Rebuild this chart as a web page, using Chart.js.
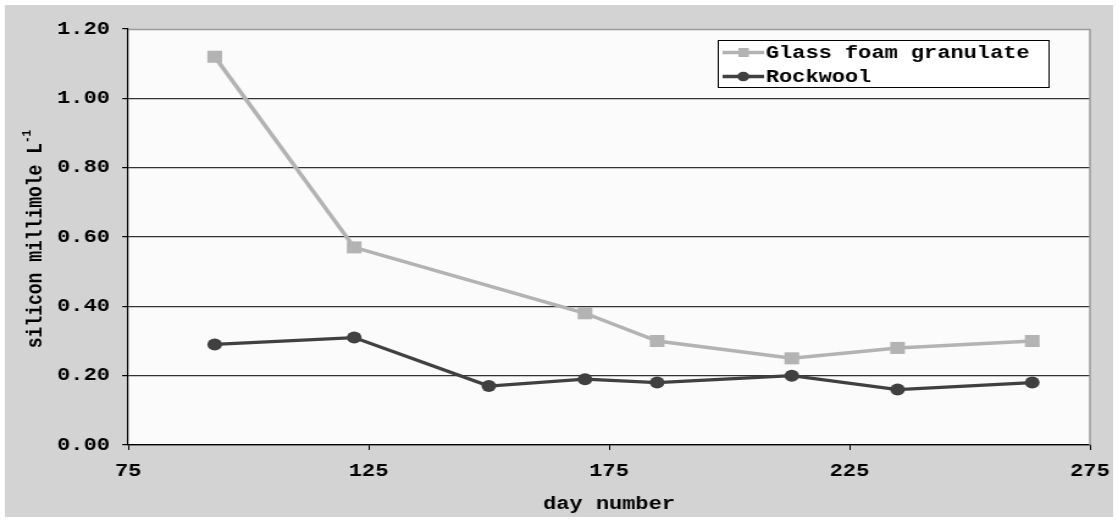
<!DOCTYPE html>
<html><head><meta charset="utf-8">
<script src="https://cdn.jsdelivr.net/npm/chart.js@4.4.1/dist/chart.umd.min.js"></script>
<style>html,body{margin:0;padding:0;background:#fff;overflow:hidden}canvas{display:block}</style>
</head><body>
<canvas id="c" width="916" height="522" style="width:1118px;height:522px;display:block"></canvas>
<script>
// ---- data ----
const days = [93, 122, 150, 170, 185, 213, 235, 263];
const glassFoam = [1.12, 0.57, null, 0.38, 0.30, 0.25, 0.28, 0.30];
const rockwool = [0.29, 0.31, 0.17, 0.19, 0.18, 0.20, 0.16, 0.18];
const xTickValues = [75, 125, 175, 225, 275];
const yTickValues = [0, 0.2, 0.4, 0.6, 0.8, 1.0, 1.2];
const seriesNames = ['Glass foam granulate', 'Rockwool'];
const xTitle = 'day number';
const yTitle = 'silicon millimole L';
const yTitleSup = '-1';

const FONT = '"Liberation Mono","Courier New",monospace';
const GLASS = '#b3b3b3', ROCK = '#404040';

function pts(xs, ys) {
  const out = [];
  xs.forEach((x, i) => { if (ys[i] !== null) out.push({x: x, y: ys[i]}); });
  return out;
}

const bgPlugin = {
  id: 'bg',
  beforeDraw(chart) {
    const c = chart.ctx, a = chart.chartArea;
    c.save();
    c.fillStyle = '#ffffff'; c.fillRect(0, 0, chart.width, chart.height);
    c.fillStyle = '#d3d3d3'; c.fillRect(4, 5, 908, 512);
    c.fillStyle = '#fbfbfb'; c.fillRect(a.left, a.top, a.right - a.left, a.bottom - a.top);
    c.restore();
  },
  beforeDatasetsDraw(chart) {
    const c = chart.ctx, a = chart.chartArea;
    c.save();
    c.strokeStyle = '#9a9a9a'; c.lineWidth = 1.5;
    c.beginPath();
    c.moveTo(a.left, a.top + 0.5); c.lineTo(a.right, a.top + 0.5);
    c.moveTo(a.right, a.top); c.lineTo(a.right, a.bottom);
    c.stroke();
    c.restore();
  },
  afterDraw(chart) {
    const c = chart.ctx, a = chart.chartArea;
    c.save();
    // x title
    c.fillStyle = '#000';
    c.font = 'bold 18px ' + FONT;
    c.textAlign = 'center'; c.textBaseline = 'middle';
    c.fillText(xTitle, (a.left + a.right) / 2, 504);
    // y title rotated with superscript
    c.translate(34, (a.top + a.bottom) / 2 + 2);
    c.rotate(-Math.PI / 2);
    c.font = 'bold 18px ' + FONT;
    const w1 = c.measureText(yTitle).width;
    c.font = 'bold 11px ' + FONT;
    const w2 = c.measureText(yTitleSup).width;
    const start = -(w1 + w2) / 2;
    c.textAlign = 'left'; c.textBaseline = 'alphabetic';
    c.font = 'bold 18px ' + FONT;
    c.fillText(yTitle, start, 0);
    c.font = 'bold 11px ' + FONT;
    c.fillText(yTitleSup, start + w1, -9);
    c.restore();

    // legend
    c.save();
    const lx = 588.5, ly = 40.5, lw = 271, lh = 47;
    c.fillStyle = '#ffffff'; c.fillRect(lx, ly, lw, lh);
    c.strokeStyle = '#000'; c.lineWidth = 1; c.strokeRect(lx, ly, lw, lh);
    const rows = [52.5, 76.5];
    chart.data.datasets.forEach((ds, i) => {
      const y = rows[i];
      c.strokeStyle = ds.borderColor; c.lineWidth = 3.5;
      c.beginPath(); c.moveTo(592, y); c.lineTo(626, y); c.stroke();
      c.fillStyle = ds.borderColor;
      if (ds.pointStyle === 'rect') {
        c.fillRect(605, y - 4.5, 8.5, 9);
      } else {
        c.beginPath(); c.arc(609, y, 4.8, 0, Math.PI * 2); c.fill();
      }
      c.fillStyle = '#000';
      c.font = 'bold 18px ' + FONT;
      c.textAlign = 'left'; c.textBaseline = 'middle';
      c.fillText(ds.label, 627.5, y + 1);
    });
    c.restore();
  }
};

new Chart(document.getElementById('c'), {
  type: 'line',
  data: {
    datasets: [
      { label: seriesNames[0], data: pts(days, glassFoam), borderColor: GLASS, backgroundColor: GLASS,
        borderWidth: 3.5, pointStyle: 'rect', pointRadius: 8.5, pointBorderWidth: 0, tension: 0 },
      { label: seriesNames[1], data: pts(days, rockwool), borderColor: ROCK, backgroundColor: ROCK,
        borderWidth: 3.2, pointStyle: 'circle', pointRadius: 6, pointBorderWidth: 0, tension: 0 }
    ]
  },
  options: {
    responsive: false,
    devicePixelRatio: 1,
    animation: false,
    layout: { padding: { left: 0, right: 23, top: 29, bottom: 0 } },
    plugins: { legend: { display: false }, tooltip: { enabled: false }, title: { display: false } },
    scales: {
      x: {
        type: 'linear', min: 75, max: 275,
        afterBuildTicks: s => { s.ticks = xTickValues.map(v => ({ value: v })); },
        afterFit: s => { s.height = 77; s.paddingLeft = 0; s.paddingRight = 0; },
        ticks: { color: '#000', font: { family: FONT, size: 18, weight: 'bold' }, padding: 11,
                 maxRotation: 0, autoSkip: false, callback: v => String(v) },
        grid: { drawOnChartArea: false, drawTicks: true, tickLength: 5, tickColor: '#000' },
        border: { color: '#000', width: 1.2 }
      },
      y: {
        min: 0, max: 1.2,
        afterBuildTicks: s => { s.ticks = yTickValues.map(v => ({ value: v })); },
        afterFit: s => { s.width = 105; s.paddingTop = 0; s.paddingBottom = 0; },
        ticks: { color: '#000', font: { family: FONT, size: 18, weight: 'bold' }, padding: 10,
                 autoSkip: false, callback: v => Number(v).toFixed(2) },
        grid: {
          color: ctx => (ctx.tick && Math.abs(ctx.tick.value - 1.2) < 1e-6) ? 'rgba(0,0,0,0)' : '#333333',
          lineWidth: 1.2, tickLength: 5, tickColor: '#000'
        },
        border: { color: '#000', width: 1.2 }
      }
    }
  },
  plugins: [bgPlugin]
});
</script>
</body></html>
